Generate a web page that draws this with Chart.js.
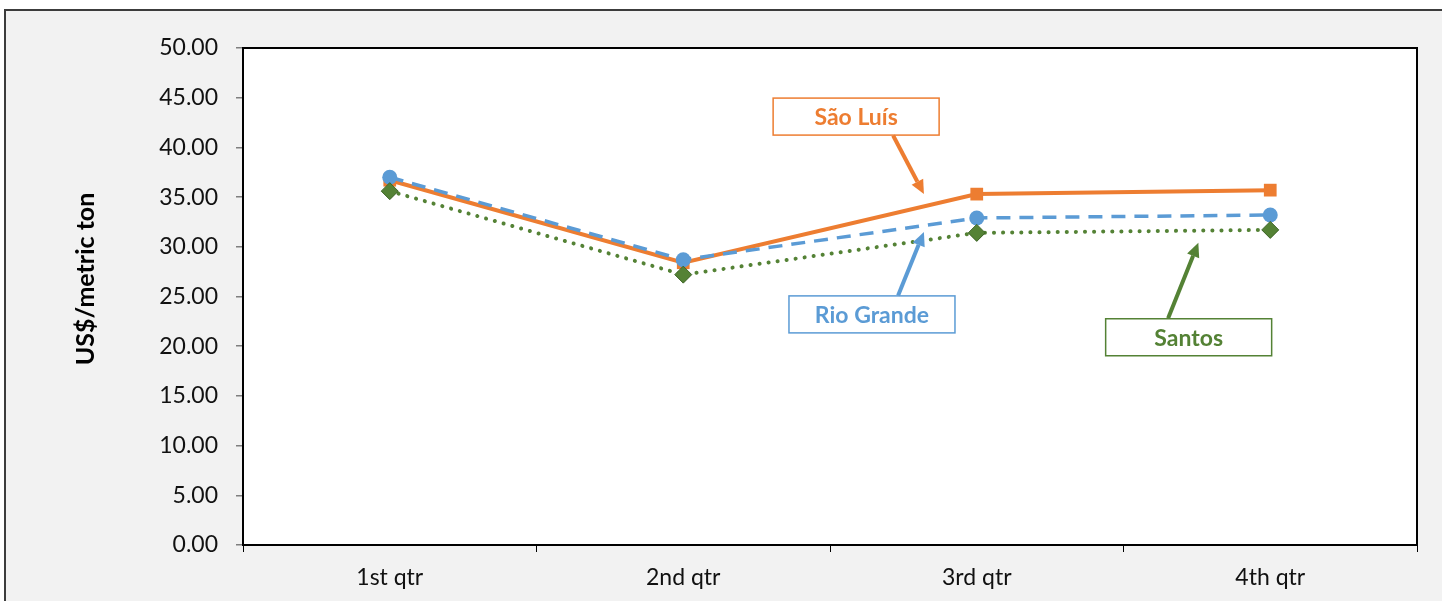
<!DOCTYPE html>
<html>
<head>
<meta charset="utf-8">
<script src="https://cdn.jsdelivr.net/npm/chart.js@4.4.1/dist/chart.umd.min.js"></script>
<style>
  html, body { margin: 0; padding: 0; background: #ffffff; overflow: hidden; }
  #frame { position: absolute; left: 4px; top: 9px; width: 1500px; height: 700px; border: 2px solid #3c3c3c; background: #f2f2f2; }
  #c { position: absolute; left: 0; top: 0; }
</style>
</head>
<body>
<div id="frame"></div>
<canvas id="c" width="1442" height="601"></canvas>
<script>
const categories = ['1st qtr', '2nd qtr', '3rd qtr', '4th qtr'];
const saoLuis = [36.7, 28.4, 35.3, 35.7];
const rioGrande = [37.0, 28.7, 32.9, 33.2];
const santos = [35.6, 27.2, 31.4, 31.7];
const seriesNames = ['São Luís', 'Rio Grande', 'Santos'];
const yTicks = [0, 5, 10, 15, 20, 25, 30, 35, 40, 45, 50];

const ORANGE = '#ED7D31';
const BLUE = '#5B9BD5';
const GREEN = '#548235';
const FONT = 'Lato, "Open Sans", sans-serif';

// annotation callouts: box centre and arrow (in category-index / value units)
const callouts = [
  { text: seriesNames[0], color: ORANGE, box: [1.589, 43.1], from: [1.715, 41.2], to: [1.820, 35.3] },
  { text: seriesNames[1], color: BLUE, box: [1.643, 23.2], from: [1.732, 25.1], to: [1.820, 31.5] },
  { text: seriesNames[2], color: GREEN, box: [2.722, 20.9], from: [2.652, 22.8], to: [2.755, 30.4] }
];

const bgPlugin = {
  id: 'bg',
  beforeDraw(chart) {
    const { ctx, chartArea: a } = chart;
    ctx.save();
    ctx.fillStyle = '#ffffff';
    ctx.fillRect(a.left, a.top, a.right - a.left, a.bottom - a.top);
    ctx.restore();
  },
  afterDraw(chart) {
    const { ctx, chartArea: a } = chart;
    ctx.save();
    ctx.strokeStyle = '#000000';
    ctx.lineWidth = 2;
    ctx.strokeRect(a.left, a.top, a.right - a.left, a.bottom - a.top);
    // y axis title
    ctx.translate(86, 279);
    ctx.rotate(-Math.PI / 2);
    ctx.fillStyle = '#000000';
    ctx.font = 'bold 25px ' + FONT;
    ctx.textAlign = 'center';
    ctx.textBaseline = 'middle';
    ctx.fillText('US$/metric ton', 0, 0);
    ctx.restore();

    const xs = chart.scales.x, ys = chart.scales.y;
    const px = v => [xs.getPixelForValue(v[0]), ys.getPixelForValue(v[1])];
    callouts.forEach(c => {
      const [bx, by] = px(c.box);
      const w = 166, h = 37;
      ctx.save();
      ctx.fillStyle = '#ffffff';
      ctx.fillRect(bx - w / 2, by - h / 2, w, h);
      ctx.strokeStyle = c.color;
      ctx.lineWidth = 1.5;
      ctx.strokeRect(bx - w / 2, by - h / 2, w, h);
      ctx.fillStyle = c.color;
      ctx.font = 'bold 23px ' + FONT;
      ctx.textAlign = 'center';
      ctx.textBaseline = 'middle';
      ctx.fillText(c.text, bx, by + 1);
      // arrow
      const [x1, y1] = px(c.from);
      const [x2, y2] = px(c.to);
      const ang = Math.atan2(y2 - y1, x2 - x1);
      const hl = 14, hw = 6.5;
      const bxh = x2 - hl * Math.cos(ang), byh = y2 - hl * Math.sin(ang);
      ctx.strokeStyle = c.color;
      ctx.lineWidth = 4;
      ctx.beginPath();
      ctx.moveTo(x1, y1);
      ctx.lineTo(bxh, byh);
      ctx.stroke();
      ctx.beginPath();
      ctx.moveTo(x2, y2);
      ctx.lineTo(bxh + hw * Math.sin(ang), byh - hw * Math.cos(ang));
      ctx.lineTo(bxh - hw * Math.sin(ang), byh + hw * Math.cos(ang));
      ctx.closePath();
      ctx.fill();
      ctx.restore();
    });
  }
};

new Chart(document.getElementById('c'), {
  type: 'line',
  data: {
    labels: categories,
    datasets: [
      {
        label: seriesNames[0], data: saoLuis, order: 2,
        borderColor: ORANGE, backgroundColor: ORANGE, borderWidth: 4,
        pointStyle: 'rect', pointRadius: 9, pointBorderWidth: 0, pointBackgroundColor: ORANGE,
        tension: 0
      },
      {
        label: seriesNames[1], data: rioGrande, order: 1,
        borderColor: BLUE, backgroundColor: BLUE, borderWidth: 3.5, borderDash: [14, 9],
        pointStyle: 'circle', pointRadius: 7.5, pointBorderWidth: 0, pointBackgroundColor: BLUE,
        tension: 0
      },
      {
        label: seriesNames[2], data: santos, order: 0,
        borderColor: GREEN, backgroundColor: GREEN, borderWidth: 4, borderDash: [0.1, 9], borderCapStyle: 'round',
        pointStyle: 'rectRot', pointRadius: 8.5, pointBorderWidth: 1, pointBorderColor: '#3d6426', pointBackgroundColor: GREEN,
        tension: 0
      }
    ]
  },
  options: {
    responsive: false,
    animation: false,
    devicePixelRatio: 1,
    layout: { padding: { top: 48, right: 25, left: 0, bottom: 0 } },
    plugins: { legend: { display: false }, tooltip: { enabled: false } },
    scales: {
      x: {
        offset: true,
        grid: { display: true, offset: true, drawOnChartArea: false, drawTicks: true, tickLength: 7, color: '#000000', lineWidth: 1 },
        border: { display: true, color: '#000000', width: 2 },
        ticks: { color: '#111111', font: { family: FONT, size: 23 }, padding: 12, maxRotation: 0 },
        afterFit(s) { s.height = 56; }
      },
      y: {
        min: 0, max: 50,
        afterBuildTicks(s) { s.ticks = yTicks.map(v => ({ value: v })); },
        grid: { display: true, drawOnChartArea: false, drawTicks: true, tickLength: 7, color: '#7f7f7f', lineWidth: 1.5 },
        border: { display: true, color: '#000000', width: 2 },
        ticks: { color: '#111111', font: { family: FONT, size: 23 }, padding: 18, callback: v => Number(v).toFixed(2) },
        afterFit(s) { s.width = 243; }
      }
    }
  },
  plugins: [bgPlugin]
});
</script>
</body>
</html>
